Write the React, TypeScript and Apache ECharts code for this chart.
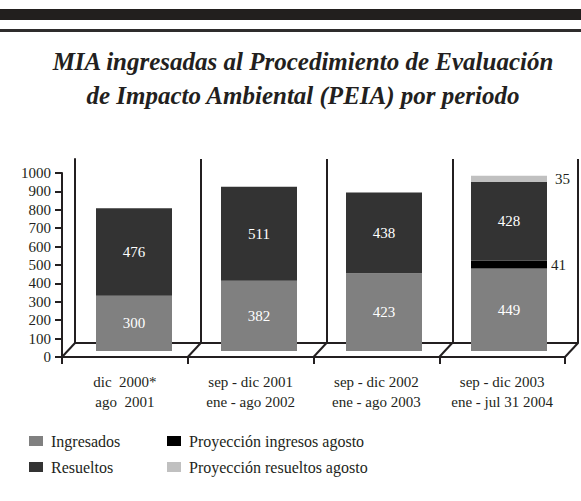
import React, { useEffect, useRef } from 'react';
import * as echarts from 'echarts';

const categories = [
  'dic  2000*\nago  2001',
  'sep - dic 2001\nene - ago 2002',
  'sep - dic 2002\nene - ago 2003',
  'sep - dic 2003\nene - jul 31 2004',
];
const ingresados = [300, 382, 423, 449];
const resueltos = [476, 511, 438, 428];
const proyeccionIngresos: (number | string)[] = ['-', '-', '-', 41];
const proyeccionResueltos: (number | string)[] = ['-', '-', '-', 35];
const seriesNames = ['Ingresados', 'Resueltos', 'Proyección ingresos agosto', 'Proyección resueltos agosto'];
const yMin = 0;
const yMax = 1000;
const yInterval = 100;

const FONT = 'Liberation Serif';
const INK = '#231f20';
const COLORS = { ing: '#808080', res: '#333333', pIng: '#000000', pRes: '#c0c0c0' };

// layout
const FRONT = { left: 62, top: 173, width: 503, height: 184 };
const BACK = { left: 75, top: 159, width: 503, height: 184 };
const BARS = { left: 71.5, top: 167, width: 500, height: 184 };
const DX = BACK.left - FRONT.left;
const DY = FRONT.top + FRONT.height - (BACK.top + BACK.height);

export default function App() {
  const ref = useRef<HTMLDivElement>(null);
  useEffect(() => {
    if (!ref.current) return;
    const chart = echarts.init(ref.current, undefined, { renderer: 'svg' });
    const valueLabel = {
      show: true,
      position: 'inside',
      color: '#ffffff',
      fontFamily: FONT,
      fontSize: 15,
    };
    const legendBase = {
      itemWidth: 14,
      itemHeight: 10,
      icon: 'rect',
      padding: 0,
      textStyle: { fontFamily: FONT, fontSize: 16, color: INK, padding: [0, 0, 0, 3] },
    };
    chart.setOption({
      animation: false,
      backgroundColor: '#ffffff',
      textStyle: { fontFamily: FONT },
      title: {
        text: 'MIA ingresadas al Procedimiento de Evaluación\nde Impacto Ambiental (PEIA) por periodo',
        left: 298,
        top: 39,
        textAlign: 'center',
        textStyle: {
          fontFamily: FONT,
          fontWeight: 'bold',
          fontStyle: 'italic',
          fontSize: 25,
          lineHeight: 34,
          color: INK,
        },
      },
      graphic: [
        { type: 'rect', shape: { x: 0, y: 9, width: 581, height: 11 }, style: { fill: '#221f1e' } },
        { type: 'rect', shape: { x: 0, y: 29, width: 581, height: 3 }, style: { fill: '#2e2c2c' } },
      ],
      legend: [
        { ...legendBase, data: [seriesNames[0]], left: 29, top: 433 },
        { ...legendBase, data: [seriesNames[2]], left: 167, top: 433 },
        { ...legendBase, data: [seriesNames[1]], left: 29, top: 459 },
        { ...legendBase, data: [seriesNames[3]], left: 167, top: 459 },
      ],
      grid: [
        { ...BACK },
        { ...BARS },
        { ...FRONT },
      ],
      xAxis: [
        {
          gridIndex: 0,
          type: 'category',
          data: categories,
          axisLine: { show: true, lineStyle: { color: INK, width: 2 } },
          axisTick: { show: false },
          axisLabel: { show: false },
          splitLine: { show: true, interval: 0, lineStyle: { color: INK, width: 2 } },
        },
        {
          gridIndex: 1,
          type: 'category',
          data: categories,
          show: false,
        },
        {
          gridIndex: 2,
          type: 'category',
          data: categories,
          axisLine: { show: true, lineStyle: { color: INK, width: 2 } },
          axisTick: { show: true, interval: 0, length: 7, inside: false, lineStyle: { color: INK, width: 2 } },
          axisLabel: { interval: 0, fontFamily: FONT, fontSize: 15, color: INK, lineHeight: 20, margin: 15 },
          splitLine: { show: false },
        },
      ],
      yAxis: [
        {
          gridIndex: 0,
          type: 'value',
          min: yMin,
          max: yMax,
          interval: yInterval,
          axisLine: { show: true, lineStyle: { color: INK, width: 2 } },
          axisTick: { show: false },
          axisLabel: { show: false },
          splitLine: { show: false },
        },
        {
          gridIndex: 1,
          type: 'value',
          min: yMin,
          max: yMax,
          interval: yInterval,
          show: false,
          splitLine: { show: false },
        },
        {
          gridIndex: 2,
          type: 'value',
          min: yMin,
          max: yMax,
          interval: yInterval,
          axisLine: { show: true, lineStyle: { color: INK, width: 2 } },
          axisTick: { show: true, length: 7, lineStyle: { color: INK, width: 2 } },
          axisLabel: {
            fontFamily: FONT,
            fontSize: 15,
            color: INK,
            margin: 11,
            formatter: (v: number) => String(v),
          },
          splitLine: { show: false },
        },
      ],
      series: [
        {
          name: seriesNames[0],
          type: 'bar',
          xAxisIndex: 1,
          yAxisIndex: 1,
          stack: 'total',
          barWidth: 76,
          data: ingresados,
          itemStyle: { color: COLORS.ing },
          label: valueLabel,
        },
        {
          name: seriesNames[2],
          type: 'bar',
          xAxisIndex: 1,
          yAxisIndex: 1,
          stack: 'total',
          barWidth: 76,
          data: proyeccionIngresos,
          itemStyle: { color: COLORS.pIng },
          label: { show: true, position: 'right', distance: 4, color: INK, fontFamily: FONT, fontSize: 15 },
        },
        {
          name: seriesNames[1],
          type: 'bar',
          xAxisIndex: 1,
          yAxisIndex: 1,
          stack: 'total',
          barWidth: 76,
          data: resueltos,
          itemStyle: { color: COLORS.res },
          label: valueLabel,
        },
        {
          name: seriesNames[3],
          type: 'bar',
          xAxisIndex: 1,
          yAxisIndex: 1,
          stack: 'total',
          barWidth: 76,
          data: proyeccionResueltos,
          itemStyle: { color: COLORS.pRes },
          label: { show: true, position: 'right', distance: 8, color: INK, fontFamily: FONT, fontSize: 15 },
        },
        {
          type: 'custom',
          xAxisIndex: 2,
          yAxisIndex: 2,
          clip: false,
          silent: true,
          z: 5,
          data: categories.map((_, i) => [i, 0]),
          encode: { x: 0, y: 1 },
          renderItem: (params: any, api: any) => {
            const i = api.value(0);
            const base = api.coord([i, 0]);
            const w = api.size([1, 0])[0];
            const xs = [base[0] - w / 2];
            if (i === categories.length - 1) xs.push(base[0] + w / 2);
            return {
              type: 'group',
              children: xs.map((x) => ({
                type: 'line',
                shape: { x1: x, y1: base[1], x2: x + DX, y2: base[1] - DY },
                style: { stroke: INK, lineWidth: 2 },
              })),
            };
          },
        },
      ],
    });
    return () => chart.dispose();
  }, []);
  return <div ref={ref} style={{ position: 'fixed', left: 0, top: 0, width: 581, height: 501 }} />;
}
